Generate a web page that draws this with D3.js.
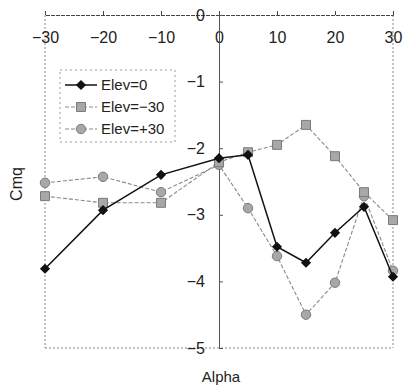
<!DOCTYPE html>
<html lang="en">
  <head>
    <meta charset="utf-8">
    <title>Cmq vs Alpha</title>
    <script src="https://d3js.org/d3.v7.js"></script>
    <style>
      body { margin: 0; background: #fff; }
      text { font-family: "Liberation Sans", Arial, sans-serif; fill: #222; }
    </style>
  </head>
  <body>
    <script>

  // width and height
  var w = 403;
  var h = 385;

  // data
  var alpha = [-30, -20, -10, 0, 5, 10, 15, 20, 25, 30];
  var elev0 = [-3.81, -2.93, -2.40, -2.15, -2.10, -3.48, -3.72, -3.27, -2.88, -3.93];
  var elevMinus30 = [-2.72, -2.82, -2.82, -2.21, -2.06, -1.95, -1.65, -2.12, -2.66, -3.08];
  var elevPlus30 = [-2.52, -2.43, -2.66, -2.25, -2.90, -3.62, -4.50, -4.02, -2.72, -3.84];
  var seriesNames = ["Elev=0", "Elev=\u221230", "Elev=+30"];
  var xTicks = [-30, -20, -10, 0, 10, 20, 30];
  var yTicks = [0, -1, -2, -3, -4, -5];

  var series = [
    { name: seriesNames[0], values: elev0, color: "#111", marker: "diamond", dash: null },
    { name: seriesNames[1], values: elevMinus30, color: "#8a8a8a", marker: "square", dash: "4,2" },
    { name: seriesNames[2], values: elevPlus30, color: "#8a8a8a", marker: "circle", dash: "4,2" }
  ];

  // scales
  var xScale = d3.scaleLinear().domain([-30, 30]).range([45, 393]);
  var yScale = d3.scaleLinear().domain([0, -5]).range([15, 348]);

  var fmt = d => d < 0 ? "\u2212" + Math.abs(d) : String(d);

  var svg = d3.select("body")
    .append("svg")
    .attr("width", w)
    .attr("height", h);

  // dashed frame (left, right, bottom)
  var frame = svg.append("g")
    .attr("fill", "none")
    .attr("stroke", "#888")
    .attr("stroke-width", 1)
    .attr("stroke-dasharray", "2,2");
  frame.append("line")
    .attr("x1", xScale(-30)).attr("x2", xScale(-30))
    .attr("y1", yScale(0)).attr("y2", yScale(-5));
  frame.append("line")
    .attr("x1", xScale(30)).attr("x2", xScale(30))
    .attr("y1", yScale(0)).attr("y2", yScale(-5));
  frame.append("line")
    .attr("x1", xScale(-30)).attr("x2", xScale(30))
    .attr("y1", yScale(-5)).attr("y2", yScale(-5));

  // x axis along y = 0
  var xAxis = svg.append("g")
    .attr("transform", "translate(0," + yScale(0) + ")")
    .call(d3.axisBottom(xScale).tickValues(xTicks).tickFormat(fmt).tickSize(-4).tickPadding(17));
  xAxis.select(".domain").attr("stroke", "#444").attr("stroke-dasharray", "4,1");
  xAxis.selectAll("line").attr("stroke", "#444");
  xAxis.selectAll("text").style("font-size", "16px").attr("fill", "#222");

  // y axis along alpha = 0
  var yAxis = svg.append("g")
    .attr("transform", "translate(" + xScale(0) + ",0)")
    .call(d3.axisLeft(yScale).tickValues(yTicks).tickFormat(fmt).tickSize(-4).tickPadding(14));
  yAxis.select(".domain").attr("stroke", "#555");
  yAxis.selectAll("line").attr("stroke", "#555");
  yAxis.selectAll("text").style("font-size", "16px").attr("fill", "#222");

  // axis titles
  svg.append("text")
    .attr("x", 221)
    .attr("y", 382)
    .attr("text-anchor", "middle")
    .style("font-size", "15px")
    .text("Alpha");

  svg.append("text")
    .attr("transform", "translate(22,184) rotate(-90)")
    .attr("text-anchor", "middle")
    .style("font-size", "16px")
    .text("Cmq");

  var line = d3.line()
    .x((d, i) => xScale(alpha[i]))
    .y(d => yScale(d));

  function drawMarker(g, type, color) {
    if (type === "diamond") {
      g.append("path")
        .attr("d", d3.symbol(d3.symbolSquare, 52)())
        .attr("transform", "rotate(45)")
        .attr("fill", color);
    } else if (type === "square") {
      g.append("path")
        .attr("d", d3.symbol(d3.symbolSquare, 80)())
        .attr("fill", "#a8a8a8")
        .attr("stroke", "#7a7a7a")
        .attr("stroke-width", 1);
    } else {
      g.append("path")
        .attr("d", d3.symbol(d3.symbolCircle, 70)())
        .attr("fill", "#a8a8a8")
        .attr("stroke", "#7a7a7a")
        .attr("stroke-width", 1);
    }
  }

  // draw gray series first, black on top
  [series[2], series[1], series[0]].forEach(function (s) {
    var g = svg.append("g");
    g.append("path")
      .datum(s.values)
      .attr("d", line)
      .attr("fill", "none")
      .attr("stroke", s.color)
      .attr("stroke-width", s.dash ? 1.1 : 1.5)
      .attr("stroke-dasharray", s.dash);
    g.selectAll("g.pt")
      .data(s.values)
      .enter()
      .append("g")
      .attr("class", "pt")
      .attr("transform", (d, i) => "translate(" + xScale(alpha[i]) + "," + yScale(d) + ")")
      .each(function () { drawMarker(d3.select(this), s.marker, s.color); });
  });

  // legend
  var legend = svg.append("g");
  legend.append("rect")
    .attr("x", 60).attr("y", 70)
    .attr("width", 115).attr("height", 72)
    .attr("fill", "#fff")
    .attr("stroke", "#999")
    .attr("stroke-dasharray", "2,3");

  var items = legend.selectAll("g.item")
    .data(series)
    .enter()
    .append("g")
    .attr("class", "item")
    .attr("transform", (d, i) => "translate(0," + (85 + i * 22) + ")");

  items.append("line")
    .attr("x1", 65).attr("x2", 97)
    .attr("stroke", d => d.color)
    .attr("stroke-width", d => d.dash ? 1.1 : 1.5)
    .attr("stroke-dasharray", d => d.dash);

  items.append("g")
    .attr("transform", "translate(81,0)")
    .each(function (d) { drawMarker(d3.select(this), d.marker, d.color); });

  items.append("text")
    .attr("x", 101)
    .attr("dy", "0.36em")
    .style("font-size", "15px")
    .text(d => d.name);

    </script>
  </body>
</html>
